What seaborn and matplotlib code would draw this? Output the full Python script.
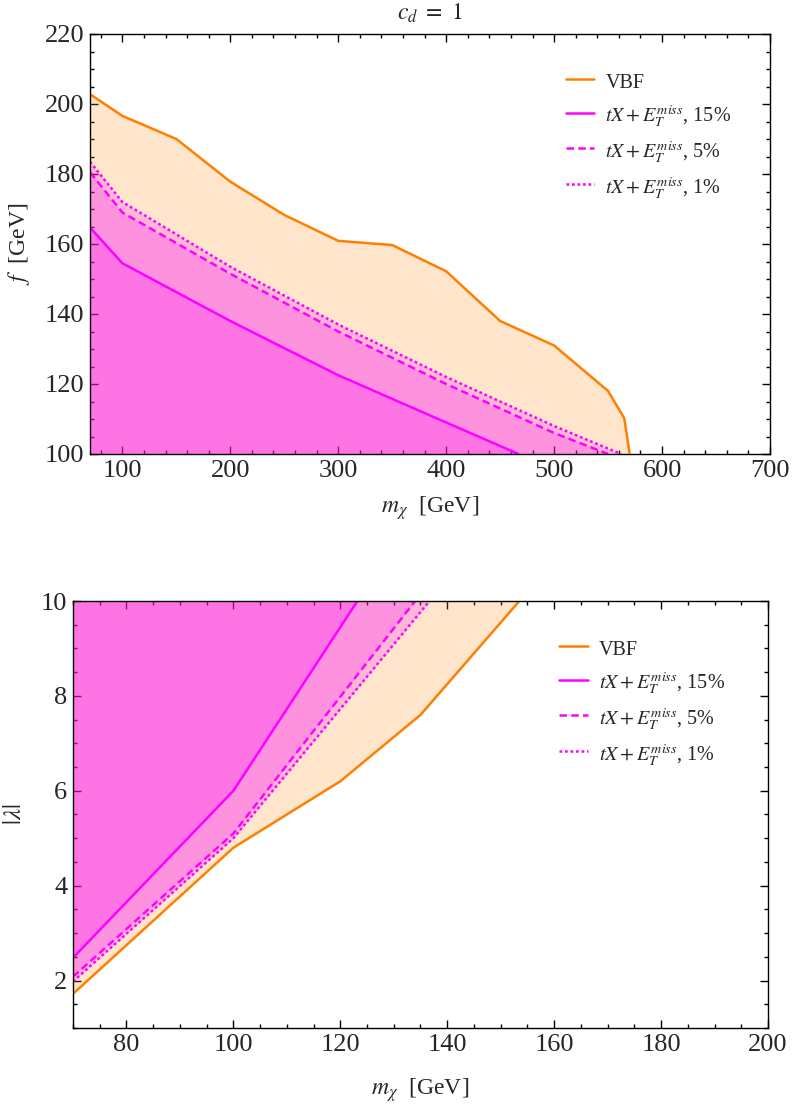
import matplotlib
matplotlib.use("Agg")
import matplotlib.pyplot as plt
import seaborn as sns
import pandas as pd
from matplotlib.lines import Line2D
from matplotlib.ticker import MultipleLocator

# ---------------- data ----------------
# Top panel (c_d = 1): f [GeV] vs m_chi [GeV]
top_vbf_m = [70, 100, 150, 200, 250, 300, 350, 400, 450, 500, 550, 565, 570]
top_vbf_f = [202.8, 196.6, 190.0, 177.8, 168.3, 160.9, 159.7, 152.2, 138.0, 131.0, 118.0, 110.2, 100.0]
top_15_m = [70, 100, 200, 300, 400, 467]
top_15_f = [164.7, 154.5, 138.0, 122.5, 109.0, 100.0]
top_5_m = [70, 100, 200, 300, 400, 500, 550]
top_5_f = [180.5, 169.0, 151.5, 135.0, 120.0, 106.0, 100.0]
top_1_m = [70, 100, 200, 300, 400, 500, 562]
top_1_f = [183.5, 172.0, 153.5, 137.0, 122.0, 108.0, 100.0]

# Bottom panel: |lambda| vs m_chi [GeV]
bot_vbf_m = [70, 100, 120, 135, 153.5]
bot_vbf_l = [1.72, 4.8, 6.2, 7.6, 10.0]
bot_15_m = [70, 100, 123.2]
bot_15_l = [2.48, 6.0, 10.0]
bot_5_m = [70, 100, 134.0]
bot_5_l = [2.08, 5.1, 10.0]
bot_1_m = [70, 100, 136.7]
bot_1_l = [1.98, 5.0, 10.0]

legend_labels = ["VBF",
                 r"$tX+E_T^{miss}$, 15%",
                 r"$tX+E_T^{miss}$, 5%",
                 r"$tX+E_T^{miss}$, 1%"]
top_xticks = [100, 200, 300, 400, 500, 600, 700]
top_yticks = [100, 120, 140, 160, 180, 200, 220]
bot_xticks = [80, 100, 120, 140, 160, 180, 200]
bot_yticks = [2, 4, 6, 8, 10]

# ---------------- style ----------------
sns.set_theme(style="ticks")
plt.rcParams["font.family"] = ["Liberation Serif", "DejaVu Serif"]
plt.rcParams["mathtext.fontset"] = "stix"
plt.rcParams["axes.linewidth"] = 1.0
plt.rcParams["axes.edgecolor"] = "black"

ORANGE = (1.0, 0.5, 0.0)
MAGENTA = (1.0, 0.0, 1.0)
FILL_A = 0.2
LW = 1.8
DASH = (3.0, 1.7)
DOT = (1.1, 1.1)

fig = plt.figure(figsize=(7.92, 11.08), dpi=100)
ax1 = fig.add_axes([90 / 792, 1 - 454 / 1108, 680 / 792, 420 / 1108])
ax2 = fig.add_axes([73 / 792, 1 - 1028 / 1108, 695 / 792, 427 / 1108])


def draw_line(ax, x, y, color, pattern=None):
    df = pd.DataFrame({"x": x, "y": y})
    sns.lineplot(data=df, x="x", y="y", ax=ax, color=color, lw=LW,
                 estimator=None, sort=False)
    ln = ax.lines[-1]
    ln.set_solid_capstyle("butt")
    if pattern is not None:
        ln.set_dashes(pattern)
        ln.set_dash_capstyle("butt")


# ---- top panel ----
ax1.fill_between(top_vbf_m, 100, top_vbf_f, color=ORANGE, alpha=FILL_A, lw=0)
ax1.fill_between(top_1_m, 100, top_1_f, color=MAGENTA, alpha=FILL_A, lw=0)
ax1.fill_between(top_5_m, 100, top_5_f, color=MAGENTA, alpha=FILL_A, lw=0)
ax1.fill_between(top_15_m, 100, top_15_f, color=MAGENTA, alpha=FILL_A, lw=0)
draw_line(ax1, top_vbf_m, top_vbf_f, ORANGE)
draw_line(ax1, top_15_m, top_15_f, MAGENTA)
draw_line(ax1, top_5_m, top_5_f, MAGENTA, DASH)
draw_line(ax1, top_1_m, top_1_f, MAGENTA, DOT)
ax1.set_xlim(70, 700)
ax1.set_ylim(100, 220)
ax1.set_xticks(top_xticks)
ax1.set_yticks(top_yticks)
ax1.xaxis.set_minor_locator(MultipleLocator(20))
ax1.yaxis.set_minor_locator(MultipleLocator(5))
ax1.set_xlabel(r"$m_\chi$  [GeV]", fontsize=17)
ax1.set_ylabel(r"$f$  [GeV]", fontsize=17)
ax1.set_title(r"$c_d\ =\ 1$", fontsize=17, pad=10)

# ---- bottom panel ----
ax2.fill_between(bot_vbf_m, bot_vbf_l, 10, color=ORANGE, alpha=FILL_A, lw=0)
ax2.fill_between(bot_1_m, bot_1_l, 10, color=MAGENTA, alpha=FILL_A, lw=0)
ax2.fill_between(bot_5_m, bot_5_l, 10, color=MAGENTA, alpha=FILL_A, lw=0)
ax2.fill_between(bot_15_m, bot_15_l, 10, color=MAGENTA, alpha=FILL_A, lw=0)
draw_line(ax2, bot_vbf_m, bot_vbf_l, ORANGE)
draw_line(ax2, bot_15_m, bot_15_l, MAGENTA)
draw_line(ax2, bot_5_m, bot_5_l, MAGENTA, DASH)
draw_line(ax2, bot_1_m, bot_1_l, MAGENTA, DOT)
ax2.set_xlim(70, 200)
ax2.set_ylim(1, 10)
ax2.set_xticks(bot_xticks)
ax2.set_yticks(bot_yticks)
ax2.xaxis.set_minor_locator(MultipleLocator(5))
ax2.yaxis.set_minor_locator(MultipleLocator(0.5))
ax2.set_xlabel(r"$m_\chi$  [GeV]", fontsize=17)
ax2.set_ylabel(r"$|\lambda|$", fontsize=18)

for ax in (ax1, ax2):
    ax.tick_params(which="both", direction="in", top=True, right=True,
                   width=1.0, color="black", labelsize=19, pad=4)
    ax.tick_params(which="major", length=5.5)
    ax.tick_params(which="minor", length=3.2)
    for s in ax.spines.values():
        s.set_visible(True)
        s.set_linewidth(1.0)
        s.set_color("black")
    ax.set_facecolor("white")

ax1.xaxis.set_label_coords(0.5, -0.095)
ax1.yaxis.set_label_coords(-0.085, 0.5)
ax2.xaxis.set_label_coords(0.5, -0.112)
ax2.yaxis.set_label_coords(-0.068, 0.5)

handles = [Line2D([], [], color=ORANGE, lw=LW),
           Line2D([], [], color=MAGENTA, lw=LW),
           Line2D([], [], color=MAGENTA, lw=LW, dashes=DASH),
           Line2D([], [], color=MAGENTA, lw=LW, dashes=DOT)]

for ax, anchor in ((ax1, (0.70, 0.915)), (ax2, (0.70, 0.916))):
    ax.legend(handles, legend_labels, loc="upper left", bbox_to_anchor=anchor,
              frameon=False, fontsize=14.5, handlelength=1.4,
              handleheight=1.45, handletextpad=0.55, labelspacing=0.48,
              borderpad=0, borderaxespad=0)

fig.savefig("out.png", dpi=100)
